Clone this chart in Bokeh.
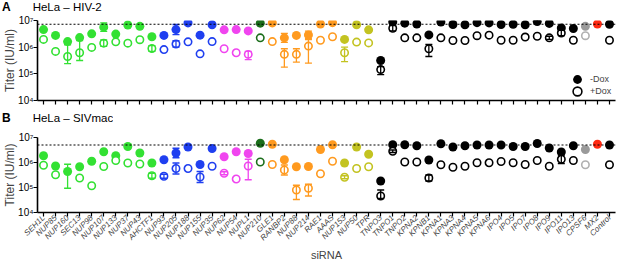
from bokeh.plotting import figure
from bokeh.models import (ColumnDataSource, Whisker, TeeHead, Span, Div,
                          FixedTicker, Legend, LegendItem)
from bokeh.layouts import column
from bokeh.embed import file_html
from bokeh.resources import INLINE

# ---------------- data ----------------
genes = ["SEH1L", "NUP85", "NUP160", "SEC13", "NUP98", "NUP107", "NUP133", "NUP37",
         "NUP43", "AHCTF1", "NUP93", "NUP205", "NUP188", "NUP155", "NUP35", "NUP62",
         "NUP54", "NUPL1", "NUP210", "GLE1", "RANBP2", "NUP88", "NUP214", "RAE1",
         "AAAS", "NUP153", "NUP50", "TPR", "TNPO3", "TNPO1", "TNPO2", "KPNA2", "KPNB1",
         "KPNA1", "KPNA3", "KPNA4", "KPNA5", "KPNA6", "IPO4", "IPO5", "IPO7", "IPO8",
         "IPO9", "IPO11", "IPO13", "CPSF6", "MX2", "Control"]

groups = (["Y"] * 10 + ["inner"] * 5 + ["central"] * 3 + ["membrane"] +
          ["cytoplasmic"] * 6 + ["basket"] * 3 + ["karyopherin"] * 17 +
          ["CPSF6", "MX2", "control"])

# titers, log10(IU/ml); None = not shown
hiv2_minus = [6.66, 6.44, 6.21, 6.36, 6.50, 6.75, 6.49, 6.83, 6.78, 6.39,
              6.44, 6.66, 6.91, 6.45, 6.84, 6.65, 6.66, 6.61, 6.90, 6.91,
              6.35, 6.44, 6.46, 6.87, 6.92, 6.29, 6.84, 6.65, 5.50, 6.94,
              6.90, 6.87, 6.46, 6.94, 6.85, 6.84, 6.92, 6.91, 6.85, 6.86,
              6.84, 6.96, 6.89, 6.72, 6.70, 6.78, 6.87, 6.86]
hiv2_plus = [6.29, 5.84, 5.65, 5.79, 5.99, 6.15, 6.20, 6.15, 6.28, 5.95,
             5.91, 6.12, 6.20, 5.75, 6.21, 5.94, 5.79, 5.73, 6.35, 6.21,
             5.73, 5.73, 6.04, 6.26, 6.39, 5.79, 6.19, 6.16, 5.16, 6.71,
             6.35, 6.35, 5.94, 6.35, 6.25, 6.25, 6.43, 6.45, 6.26, 6.26,
             6.38, 6.41, 6.35, 6.53, 6.26, 6.43, None, 6.26]
siv_minus = [6.27, 5.86, 5.64, 5.83, 6.05, 6.43, 6.27, 6.64, 6.38, 5.98,
             6.11, 6.38, 6.62, 5.92, 6.56, 6.23, 6.43, 6.36, 6.77, 6.73,
             6.11, 5.83, 5.84, 6.52, 6.71, 5.98, 6.62, 6.33, 5.26, 6.71,
             6.71, 6.67, 6.10, 6.75, 6.62, 6.67, 6.70, 6.70, 6.70, 6.64,
             6.64, 6.76, 6.58, 6.42, 6.67, 6.52, 6.73, 6.70]
siv_plus = [5.89, 5.51, None, 5.38, 5.07, 5.84, 6.08, 5.98, 5.94, 5.47,
            5.45, 5.76, 5.76, 5.42, 5.85, 5.57, 5.34, 5.86, 6.02, 5.92,
            5.70, 4.90, 4.97, 5.55, 6.05, 5.41, 5.76, 5.83, 4.66, 6.45,
            6.02, 6.02, 5.38, 5.91, 5.81, 5.85, 5.99, 5.99, 6.04, 5.99,
            5.92, 6.08, 5.85, 6.13, 6.08, 5.91, None, 5.91]

# error bars: gene -> (down, up) in log10 units
hiv2_minus_err = {"NUP37": (0.05, 0.05), "NUP107": (0.16, 0.16), "NUP205": (0.19, 0.19),
                  "RANBP2": (0.17, 0.17), "NUP214": (0.14, 0.14), "TNPO1": (0.04, 0.04),
                  "KPNA5": (0.04, 0.04), "IPO8": (0.05, 0.05)}
hiv2_plus_err = {"NUP160": (0.27, 0.44), "SEC13": (0.29, 0.46), "NUP107": (0.12, 0.12),
                 "AHCTF1": (0.11, 0.11), "NUP205": (0.12, 0.12), "NUPL1": (0.20, 0.11),
                 "RANBP2": (0.48, 0.21), "NUP88": (0.29, 0.21), "NUP214": (0.64, 0.24),
                 "NUP153": (0.33, 0.21), "TNPO3": (0.19, 0.11), "TNPO1": (0.10, 0.10),
                 "KPNB1": (0.29, 0.16), "IPO9": (0.06, 0.06), "IPO11": (0.10, 0.10)}
siv_minus_err = {"NUP160": (0.67, 0.29), "NUP205": (0.19, 0.19), "TNPO1": (0.04, 0.04),
                 "IPO11": (0.05, 0.05)}
siv_plus_err = {"AHCTF1": (0.10, 0.10), "NUP93": (0.08, 0.08), "NUP205": (0.22, 0.22),
                "NUP155": (0.22, 0.22), "NUP62": (0.06, 0.06), "NUPL1": (0.55, 0.27),
                "RANBP2": (0.20, 0.20), "NUP88": (0.38, 0.19), "NUP214": (0.31, 0.16),
                "NUP153": (0.06, 0.06), "TNPO3": (0.10, 0.24), "TNPO1": (0.05, 0.05),
                "KPNB1": (0.12, 0.12), "IPO11": (0.17, 0.17)}

y_ticks = [1e4, 1e5, 1e6, 1e7]
y_tick_labels = ["10\u2074", "10\u2075", "10\u2076", "10\u2077"]

# ---------------- style ----------------
group_colors = {"Y": "#33e133", "inner": "#1f3ff0", "central": "#f045ef",
                "membrane": "#1b6e1b", "cytoplasmic": "#ff9a1f", "basket": "#c3c321",
                "karyopherin": "#000000", "CPSF6": "#9a9a9a", "MX2": "#ff2a12",
                "control": "#000000"}
open_colors = dict(group_colors, CPSF6="#b0b0b0")
FONT = "Liberation Sans"


def build(vals, errs, palette):
    pts = dict(x=[], y=[], color=[], gene=[])
    bars = {}
    for i, (g, grp, v) in enumerate(zip(genes, groups, vals)):
        if v is None:
            continue
        c = palette[grp]
        pts["x"].append(i)
        pts["y"].append(10 ** v)
        pts["color"].append(c)
        pts["gene"].append(g)
        if g in errs:
            lo, hi = errs[g]
            b = bars.setdefault(c, dict(base=[], lower=[], upper=[]))
            b["base"].append(i)
            b["lower"].append(10 ** (v - lo))
            b["upper"].append(10 ** (v + hi))
    return pts, bars


def add_bars(p, bars):
    for c, d in bars.items():
        w = Whisker(source=ColumnDataSource(d), base="base", lower="lower", upper="upper",
                    line_color=c, line_width=1.3, level="glyph",
                    upper_head=TeeHead(size=7, line_color=c, line_width=1.3),
                    lower_head=TeeHead(size=7, line_color=c, line_width=1.3))
        p.add_layout(w)


def make_header(letter, title, height, pad_top):
    html = (f'<div style="font-family:\'{FONT}\',Arial,sans-serif;white-space:nowrap;'
            f'color:#000;line-height:12px;height:{height}px;box-sizing:border-box;'
            f'overflow:hidden;padding-top:{pad_top}px;padding-left:2px;margin:0">'
            f'<b style="font-size:12px">{letter}</b>'
            f'<span style="font-size:11.5px;margin-left:22px">{title}</span></div>')
    return Div(text=html, width=617, height=height, margin=0)


def make_panel(minus, plus, minus_err, plus_err, height, top, bottom, x_labels, legend):
    p = figure(width=617, height=height, x_range=(-0.5, len(genes) - 0.5),
               y_range=(1e4, 1e7), y_axis_type="log", output_backend="svg",
               toolbar_location=None, min_border_left=37, min_border_right=2,
               min_border_top=top, min_border_bottom=bottom)
    p.outline_line_color = None
    p.xgrid.visible = False
    p.ygrid.visible = False

    # y axis
    p.yaxis.ticker = FixedTicker(ticks=y_ticks, minor_ticks=[])
    p.yaxis.major_label_overrides = dict(zip(y_ticks, y_tick_labels))
    p.yaxis.axis_label = "Titer (IU/ml)"
    p.yaxis.axis_label_text_font = FONT
    p.yaxis.axis_label_text_font_style = "normal"
    p.yaxis.axis_label_text_font_size = "12px"
    p.yaxis.axis_label_standoff = -2
    p.yaxis.major_label_text_font = FONT
    p.yaxis.major_label_text_font_size = "10px"
    p.yaxis.major_label_standoff = 0

    # x axis
    p.xaxis.ticker = FixedTicker(ticks=list(range(len(genes))), minor_ticks=[])
    if x_labels:
        p.xaxis.major_label_overrides = {i: g for i, g in enumerate(genes)}
        p.xaxis.major_label_orientation = 0.785398
        p.xaxis.major_label_text_font = FONT
        p.xaxis.major_label_text_font_style = "italic"
        p.xaxis.major_label_text_font_size = "8px"
        p.xaxis.major_label_standoff = 0
        p.xaxis.axis_label = "siRNA"
        p.xaxis.axis_label_text_font = FONT
        p.xaxis.axis_label_text_font_style = "normal"
        p.xaxis.axis_label_text_font_size = "11px"
        p.xaxis.axis_label_standoff = 1
    else:
        p.xaxis.major_label_overrides = {i: "" for i in range(len(genes))}
        p.xaxis.major_label_text_font_size = "0px"
        p.xaxis.major_label_text_color = None
        p.xaxis.major_label_standoff = 0

    for ax in (p.xaxis, p.yaxis):
        ax.axis_line_width = 1.6
        ax.axis_line_color = "black"
        ax.major_tick_line_width = 1.2
        ax.major_tick_in = 0
        ax.major_tick_out = 4
        ax.minor_tick_line_color = None
    p.yaxis.major_label_text_color = "black"

    # control reference line
    p.add_layout(Span(location=10 ** minus[genes.index("Control")], dimension="width",
                      line_color="black", line_dash="2 2", line_width=1.2))

    f_pts, f_bars = build(minus, minus_err, group_colors)
    o_pts, o_bars = build(plus, plus_err, open_colors)
    add_bars(p, f_bars)
    add_bars(p, o_bars)
    rf = p.scatter("x", "y", source=ColumnDataSource(f_pts), size=9, marker="circle",
                   fill_color="color", line_color=None)
    ro = p.scatter("x", "y", source=ColumnDataSource(o_pts), size=7.4, marker="circle",
                   fill_color="white", line_color="color", line_width=1.6)

    if legend:
        kf = f_pts["gene"].index("Control")
        ko = o_pts["gene"].index("Control")
        for lab, r, k, loc in (("-Dox", rf, kf, (529, 10)), ("+Dox", ro, ko, (529, -2))):
            lg = Legend(items=[LegendItem(label=lab, renderers=[r], index=k)], location=loc,
                        glyph_width=22, glyph_height=22, label_height=22, label_standoff=2,
                        padding=0, margin=0, spacing=0, border_line_color=None,
                        background_fill_alpha=0, label_text_font=FONT,
                        label_text_font_size="9px")
            p.add_layout(lg)
    return p


hA = make_header("A", "HeLa \u2013 HIV-2", 14, 1)
pA = make_panel(hiv2_minus, hiv2_plus, hiv2_minus_err, hiv2_plus_err, 96, 6, 10, False, True)
hB = make_header("B", "HeLa \u2013 SIVmac", 15, 2)
pB = make_panel(siv_minus, siv_plus, siv_minus_err, siv_plus_err, 139, 12, 47, True, False)

layout = column(hA, pA, hB, pB, spacing=0)
open("out.html", "w").write(file_html(layout, INLINE))
